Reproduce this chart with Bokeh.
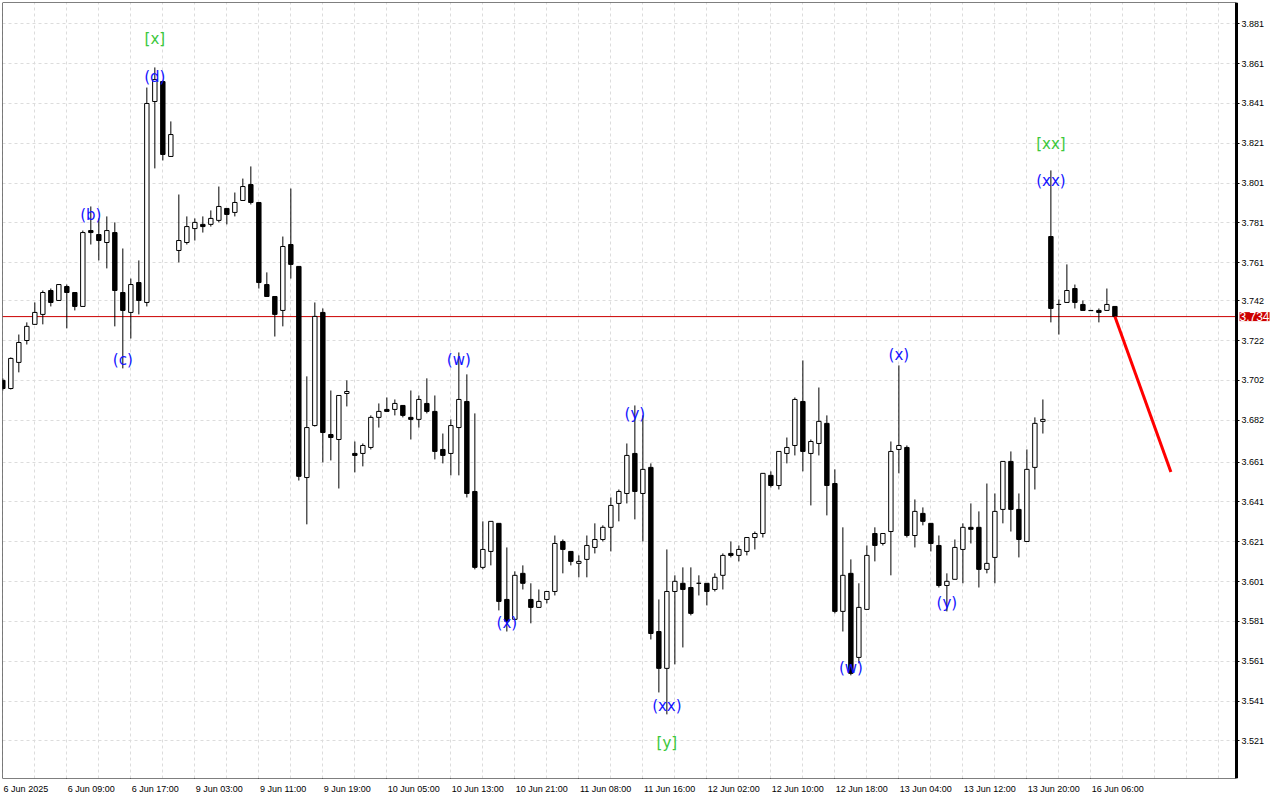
from bokeh.plotting import figure
from bokeh.models import (FixedTicker, Span, Label, ColumnDataSource, PrintfTickFormatter,
                          LinearAxis, BoxAnnotation)
from bokeh.core.properties import value
from bokeh.embed import file_html
from bokeh.resources import INLINE

opens = [
    3.7020, 3.6979, 3.7110, 3.7220, 3.7301, 3.7351, 3.7471, 3.7421, 3.7491, 3.7461,
    3.7391, 3.7772, 3.7752, 3.7712, 3.7762, 3.7461, 3.7361, 3.7511, 3.7411, 3.8420,
    3.8520, 3.8144, 3.7672, 3.7712, 3.7782, 3.7803, 3.7803, 3.7823, 3.7883, 3.7863,
    3.7923, 3.8003, 3.7913, 3.7501, 3.7441, 3.7371, 3.7702, 3.7592, 3.6532, 3.6793,
    3.7361, 3.6748, 3.6723, 3.6954, 3.6653, 3.6653, 3.6683, 3.6834, 3.6874, 3.6874,
    3.6894, 3.6834, 3.6824, 3.6904, 3.6864, 3.6673, 3.6653, 3.6783, 3.6914, 3.6462,
    3.6081, 3.6161, 3.6302, 3.5920, 3.5820, 3.6051, 3.5920, 3.5880, 3.5920, 3.5960,
    3.6211, 3.6161, 3.6101, 3.6121, 3.6181, 3.6221, 3.6282, 3.6402, 3.6452, 3.6653,
    3.6452, 3.6583, 3.5759, 3.5574, 3.5960, 3.6001, 3.5980, 3.6001, 3.6001, 3.5970,
    3.6041, 3.6151, 3.6141, 3.6161, 3.6231, 3.6251, 3.6543, 3.6492, 3.6653, 3.6693,
    3.6914, 3.6653, 3.6703, 3.6804, 3.6502, 3.5860, 3.6051, 3.5629, 3.5870, 3.6251,
    3.6201, 3.6261, 3.6673, 3.6683, 3.6241, 3.6352, 3.6302, 3.6191, 3.5990, 3.6021,
    3.6171, 3.6282, 3.6282, 3.6071, 3.6131, 3.6372, 3.6613, 3.6372, 3.6211, 3.6583,
    3.6814, 3.7742, 3.7401, 3.7411, 3.7481, 3.7401, 3.7371, 3.7371, 3.7371, 3.7391,
]
highs = [
    3.7030, 3.7135, 3.7250, 3.7311, 3.7411, 3.7471, 3.7481, 3.7501, 3.7501, 3.7461,
    3.7772, 3.7893, 3.7833, 3.7843, 3.7813, 3.7682, 3.7531, 3.7622, 3.8490, 3.8591,
    3.8525, 3.8320, 3.7953, 3.7843, 3.7833, 3.7843, 3.7873, 3.7993, 3.7883, 3.7963,
    3.8033, 3.8094, 3.7913, 3.7562, 3.7441, 3.7742, 3.7983, 3.7592, 3.7040, 3.7411,
    3.7381, 3.6969, 3.6944, 3.7020, 3.6713, 3.6703, 3.6844, 3.6904, 3.6934, 3.6924,
    3.6894, 3.6969, 3.6944, 3.7030, 3.6944, 3.6753, 3.6824, 3.7160, 3.7050, 3.6854,
    3.6312, 3.6312, 3.6302, 3.6181, 3.6061, 3.6091, 3.6001, 3.5970, 3.5960, 3.6241,
    3.6221, 3.6161, 3.6141, 3.6241, 3.6302, 3.6292, 3.6432, 3.6472, 3.6703, 3.6894,
    3.6844, 3.6603, 3.5920, 3.6171, 3.6041, 3.6081, 3.6081, 3.6041, 3.6001, 3.6051,
    3.6151, 3.6211, 3.6191, 3.6231, 3.6261, 3.6553, 3.6563, 3.6663, 3.6733, 3.6934,
    3.7120, 3.6723, 3.6984, 3.6844, 3.6573, 3.6282, 3.6121, 3.6001, 3.6191, 3.6282,
    3.6251, 3.6713, 3.7095, 3.6693, 3.6422, 3.6382, 3.6302, 3.6241, 3.6051, 3.6221,
    3.6302, 3.6402, 3.6362, 3.6502, 3.6452, 3.6613, 3.6663, 3.6452, 3.6673, 3.6834,
    3.6924, 3.8074, 3.7426, 3.7602, 3.7501, 3.7421, 3.7371, 3.7381, 3.7481, 3.7391,
]
lows = [
    3.6969, 3.6974, 3.7060, 3.7200, 3.7299, 3.7301, 3.7391, 3.7421, 3.7281, 3.7371,
    3.7391, 3.7702, 3.7622, 3.7582, 3.7291, 3.7080, 3.7230, 3.7351, 3.7391, 3.8084,
    3.8124, 3.8144, 3.7612, 3.7702, 3.7722, 3.7762, 3.7792, 3.7813, 3.7803, 3.7843,
    3.7923, 3.7903, 3.7481, 3.7441, 3.7240, 3.7291, 3.7531, 3.6517, 3.6297, 3.6788,
    3.6608, 3.6618, 3.6477, 3.6889, 3.6558, 3.6588, 3.6673, 3.6783, 3.6864, 3.6844,
    3.6834, 3.6723, 3.6783, 3.6854, 3.6623, 3.6603, 3.6543, 3.6543, 3.6432, 3.6071,
    3.6071, 3.6091, 3.5865, 3.5759, 3.5820, 3.5970, 3.5800, 3.5880, 3.5900, 3.5940,
    3.6051, 3.6091, 3.6031, 3.6031, 3.6151, 3.6211, 3.6161, 3.6312, 3.6402, 3.6322,
    3.6211, 3.5719, 3.5453, 3.5343, 3.5594, 3.5679, 3.5840, 3.5940, 3.5890, 3.5960,
    3.5970, 3.6131, 3.6111, 3.6141, 3.6171, 3.6231, 3.6482, 3.6472, 3.6603, 3.6643,
    3.6563, 3.6392, 3.6643, 3.6342, 3.5850, 3.5759, 3.5539, 3.5599, 3.5870, 3.6111,
    3.6191, 3.6041, 3.6553, 3.6231, 3.6181, 3.6292, 3.6161, 3.5980, 3.5860, 3.6021,
    3.6001, 3.6201, 3.5980, 3.6051, 3.6001, 3.6302, 3.6261, 3.6131, 3.6211, 3.6472,
    3.6753, 3.7311, 3.7250, 3.7411, 3.7381, 3.7371, 3.7370, 3.7311, 3.7371, 3.7336,
]
closes = [
    3.6979, 3.7130, 3.7210, 3.7291, 3.7361, 3.7461, 3.7411, 3.7501, 3.7461, 3.7391,
    3.7762, 3.7762, 3.7722, 3.7772, 3.7471, 3.7371, 3.7501, 3.7421, 3.8410, 3.8530,
    3.8154, 3.8254, 3.7722, 3.7792, 3.7813, 3.7792, 3.7833, 3.7893, 3.7853, 3.7913,
    3.7993, 3.7913, 3.7511, 3.7441, 3.7351, 3.7692, 3.7602, 3.6538, 3.6783, 3.7341,
    3.6758, 3.6733, 3.6944, 3.6964, 3.6643, 3.6693, 3.6834, 3.6864, 3.6864, 3.6904,
    3.6844, 3.6824, 3.6924, 3.6864, 3.6663, 3.6643, 3.6793, 3.6924, 3.6452, 3.6081,
    3.6171, 3.6312, 3.5910, 3.5810, 3.6041, 3.6001, 3.5880, 3.5910, 3.5960, 3.6201,
    3.6171, 3.6111, 3.6111, 3.6191, 3.6221, 3.6282, 3.6392, 3.6462, 3.6643, 3.6462,
    3.6573, 3.5749, 3.5574, 3.5960, 3.6011, 3.5970, 3.5850, 3.6001, 3.5960, 3.6031,
    3.6141, 3.6141, 3.6171, 3.6231, 3.6251, 3.6553, 3.6492, 3.6663, 3.6683, 3.6924,
    3.6663, 3.6713, 3.6814, 3.6492, 3.5860, 3.6041, 3.5549, 3.5880, 3.6141, 3.6191,
    3.6251, 3.6663, 3.6693, 3.6241, 3.6362, 3.6312, 3.6201, 3.5990, 3.6011, 3.6181,
    3.6282, 3.6272, 3.6071, 3.6101, 3.6362, 3.6613, 3.6372, 3.6221, 3.6573, 3.6804,
    3.6824, 3.7381, 3.7401, 3.7471, 3.7411, 3.7371, 3.7370, 3.7361, 3.7401, 3.7341,
]

x_tick_bars = [0, 8, 16, 24, 32, 40, 48, 56, 64, 72, 80, 88, 96, 104, 112, 120, 128, 136]
x_tick_labels = [
    "6 Jun 2025", "6 Jun 09:00", "6 Jun 17:00", "9 Jun 03:00", "9 Jun 11:00",
    "9 Jun 19:00", "10 Jun 05:00", "10 Jun 13:00", "10 Jun 21:00", "11 Jun 08:00",
    "11 Jun 16:00", "12 Jun 02:00", "12 Jun 10:00", "12 Jun 18:00", "13 Jun 04:00",
    "13 Jun 12:00", "13 Jun 20:00", "16 Jun 06:00",
]
price_ticks = [3.881, 3.861, 3.841, 3.821, 3.801, 3.781, 3.761, 3.742, 3.722, 3.702,
               3.682, 3.661, 3.641, 3.621, 3.601, 3.581, 3.561, 3.541, 3.521]

current_price = 3.734
current_label = "3.734"
forecast_bars = [139, 146]
forecast_prices = [3.734, 3.656]

wave_bars = [19, 11, 15, 57, 63, 79, 83, 106, 112, 118, 131]
wave_prices = [3.8545, 3.7848, 3.7120, 3.7120, 3.5800, 3.6849, 3.5383, 3.5574, 3.7145, 3.5900, 3.8023]
wave_texts = ["(d)", "(b)", "(c)", "(w)", "(x)", "(y)", "(xx)", "(w)", "(x)", "(y)", "(xx)"]

major_bars = [19, 83, 131]
major_prices = [3.8736, 3.5197, 3.8209]
major_texts = ["[x]", "[y]", "[xx]"]

n = len(opens)
bars = list(range(n))
up = [c >= o for o, c in zip(opens, closes)]
down = [not u for u in up]

def sel(lst, mask):
    return [v for v, m in zip(lst, mask) if m]

def body_source(mask):
    o = sel(opens, mask)
    c = sel(closes, mask)
    return ColumnDataSource(dict(x=sel(bars, mask),
                                 top=[max(a, b) for a, b in zip(o, c)],
                                 bottom=[min(a, b) for a, b in zip(o, c)]))

src_up = body_source(up)
src_dn = body_source(down)

PX_PER_BAR = 8.0
X_START = -0.04
X_AXIS_AT = 154.2          # where the price scale sits
X_END = 159.2              # frame continues under the price scale
Y_START, Y_END = 3.5021, 3.8917
LABEL_PX = 9
CHAR_W = {" ": 0.278, ":": 0.278, "J": 0.5}   # Liberation Sans advance widths (em)

def text_w(s):
    return sum(CHAR_W.get(ch, 0.556) for ch in s) * LABEL_PX

p = figure(frame_width=int(round((X_END - X_START) * PX_PER_BAR)), frame_height=776,
           x_range=(X_START, X_END), y_range=(Y_START, Y_END),
           y_axis_location="right", output_backend="svg", toolbar_location=None,
           min_border_left=0, min_border_top=0, min_border_right=0, min_border_bottom=0,
           background_fill_color="white", border_fill_color="white")
p.styles = {"margin-left": "2px", "margin-top": "2px"}
p.outline_line_color = None

# the price scale (the figure's own right axis), configured before other axes are added
ya = p.right[0]
ya.fixed_location = X_AXIS_AT
ya.ticker = FixedTicker(ticks=price_ticks)
ya.formatter = PrintfTickFormatter(format="%.3f")
ya.axis_line_width = 3
ya.axis_line_color = "black"
ya.major_tick_out = 3
ya.major_tick_in = 0
ya.minor_tick_out = 0
ya.minor_tick_in = 0
ya.major_tick_line_color = "black"
ya.major_label_standoff = 2
ya.major_label_text_font = "Liberation Sans"
ya.major_label_text_font_size = "9px"
ya.major_label_text_color = "black"

# x axis (the figure's own bottom axis): labels, left aligned at their tick
xa = p.below[0]
label_pos = [round(b + text_w(t) / 2 / PX_PER_BAR + 0.1, 3) for b, t in zip(x_tick_bars, x_tick_labels)]
xa.ticker = FixedTicker(ticks=label_pos)
xa.major_label_overrides = {pos: t for pos, t in zip(label_pos, x_tick_labels)}
xa.axis_line_color = None
xa.major_tick_line_color = None
xa.minor_tick_line_color = None
xa.major_tick_out = 0
xa.major_tick_in = 0
xa.minor_tick_out = 0
xa.minor_tick_in = 0
xa.major_label_standoff = 5
xa.major_label_text_font = "Liberation Sans"
xa.major_label_text_font_size = "9px"
xa.major_label_text_color = "black"

# grid
p.xgrid.ticker = FixedTicker(ticks=list(range(0, 156, 4)))
p.ygrid.ticker = FixedTicker(ticks=price_ticks)
for g in (p.xgrid[0], p.ygrid[0]):
    g.grid_line_color = "#dcdcdc"
    g.grid_line_dash = "3 3"
    g.grid_line_width = 1

# current price line (under the price-scale cover)
p.add_layout(Span(location=current_price, dimension="width", line_color="#cc0000",
                  line_width=1, level="underlay"))
# keep the price-scale strip clean of grid lines
p.add_layout(BoxAnnotation(left=X_AXIS_AT, fill_color="white", fill_alpha=1.0,
                           line_color=None, level="underlay"))

# x axis line with tick marks
xline = LinearAxis(fixed_location=Y_START, bounds=(X_START, X_AXIS_AT),
                   ticker=FixedTicker(ticks=x_tick_bars),
                   axis_line_color="black", major_tick_line_color="black",
                   major_tick_out=5, major_tick_in=0, minor_tick_out=0, minor_tick_in=0,
                   major_label_text_color=None)
p.add_layout(xline, "below")

# top frame line
xtop = LinearAxis(fixed_location=Y_END, bounds=(X_START, X_AXIS_AT),
                  ticker=FixedTicker(ticks=[]), axis_line_color="black",
                  major_tick_out=0, major_tick_in=0, minor_tick_out=0, minor_tick_in=0,
                  major_label_text_color=None)
p.add_layout(xtop, "above")

# left frame line
yleft = LinearAxis(fixed_location=X_START, ticker=FixedTicker(ticks=[]), axis_line_color="black",
                   major_tick_out=0, major_tick_in=0, minor_tick_out=0, minor_tick_in=0,
                   major_label_text_color=None)
p.add_layout(yleft, "left")

# candles
p.segment(x0=bars, y0=lows, x1=bars, y1=highs, line_color="black", line_width=1)
p.vbar(x="x", top="top", bottom="bottom", width=0.55, source=src_up,
       fill_color="white", line_color="black", line_width=1)
p.vbar(x="x", top="top", bottom="bottom", width=0.55, source=src_dn,
       fill_color="black", line_color="black", line_width=1)

# forecast
p.line(forecast_bars, forecast_prices, line_color="#ff0000", line_width=3)

# wave labels
p.text(x=wave_bars, y=wave_prices, text=wave_texts, text_font=value("DejaVu Sans"),
       text_font_size="15px", text_color="#1414ff", text_align="center", text_baseline="middle")
p.text(x=major_bars, y=major_prices, text=major_texts, text_font=value("DejaVu Sans"),
       text_font_size="15px", text_color="#3cc83c", text_align="center", text_baseline="middle")

# price label box on the price scale
p.add_layout(Label(x=X_AXIS_AT, y=current_price, text=current_label, x_offset=3,
                   text_align="left", text_baseline="middle", text_color="white",
                   background_fill_color="#cc0000", text_font="Liberation Sans",
                   text_font_size="12px"))

open("out.html", "w").write(file_html(p, INLINE))
